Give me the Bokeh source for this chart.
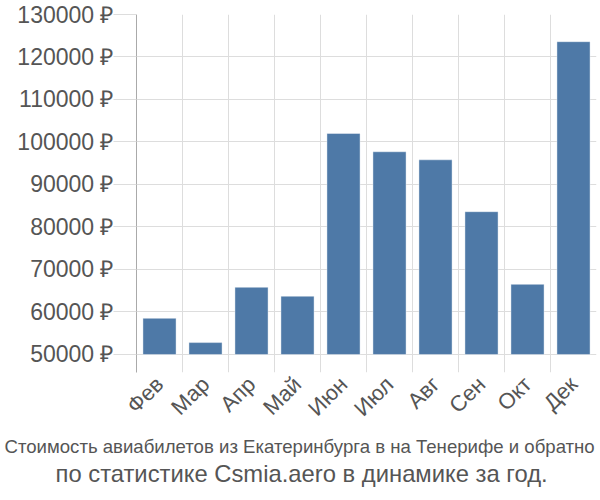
from bokeh.plotting import figure
from bokeh.models import Range1d, FixedTicker, Title
from bokeh.embed import file_html
from bokeh.resources import INLINE
import math

months = ["Фев", "Мар", "Апр", "Май", "Июн", "Июл", "Авг", "Сен", "Окт", "Дек"]
prices = [58500, 52800, 65800, 63700, 102000, 97700, 95800, 83600, 66500, 123600]
y_ticks = [50000, 60000, 70000, 80000, 90000, 100000, 110000, 120000, 130000]
title_lines = ["Стоимость авиабилетов из Екатеринбурга в на Тенерифе и обратно",
               "по статистике Csmia.aero в динамике за год."]

FONT = "Liberation Sans"
TXT = "#555555"

p = figure(width=600, height=500, output_backend="svg", toolbar_location=None,
           x_range=Range1d(0, len(months)), y_range=Range1d(45760, 130000),
           min_border_left=136, min_border_right=4, min_border_top=14, min_border_bottom=128)
p.outline_line_color = None
p.background_fill_color = "white"

xs = [i + 0.5 for i in range(len(months))]
p.vbar(x=xs, top=prices, bottom=50000, width=0.72, fill_color="#4e79a7",
       line_color="#ffffff", line_alpha=0.4)

# y axis
p.yaxis.ticker = FixedTicker(ticks=y_ticks)
p.yaxis.major_label_overrides = {t: f"{t} ₽" for t in y_ticks}
p.yaxis.major_label_text_font = FONT
p.yaxis.major_label_text_font_size = "23px"
p.yaxis.major_label_text_color = TXT
p.yaxis.major_tick_out = 23
p.yaxis.major_tick_in = 0
p.yaxis.major_tick_line_color = "#dddddd"
p.yaxis.minor_tick_line_color = None
p.yaxis.axis_line_color = "#aaaaaa"
p.yaxis.major_label_standoff = 0

# x axis
p.xaxis.ticker = FixedTicker(ticks=xs)
p.xaxis.major_label_overrides = {x: m for x, m in zip(xs, months)}
p.xaxis.major_label_orientation = math.pi / 4
p.xaxis.major_label_text_font = FONT
p.xaxis.major_label_text_font_size = "22px"
p.xaxis.major_label_text_color = TXT
p.xaxis.major_tick_line_color = None
p.xaxis.minor_tick_line_color = None
p.xaxis.axis_line_color = None
p.xaxis.major_label_standoff = 2

p.xgrid.ticker = FixedTicker(ticks=list(range(len(months) + 1)))
p.xgrid.grid_line_color = "#dddddd"
p.ygrid.ticker = FixedTicker(ticks=y_ticks)
p.ygrid.grid_line_color = "#dddddd"

t1 = Title(text=title_lines[0], align="left", offset=-132, text_font=FONT,
           text_font_size="18.6px", text_font_style="normal", text_color=TXT, standoff=2)
t2 = Title(text=title_lines[1], align="left", offset=-81, text_font=FONT,
           text_font_size="23.8px", text_font_style="normal", text_color=TXT, standoff=0)
p.add_layout(t1, "below")
p.add_layout(t2, "below")

open("out.html", "w").write(file_html(p, INLINE))
